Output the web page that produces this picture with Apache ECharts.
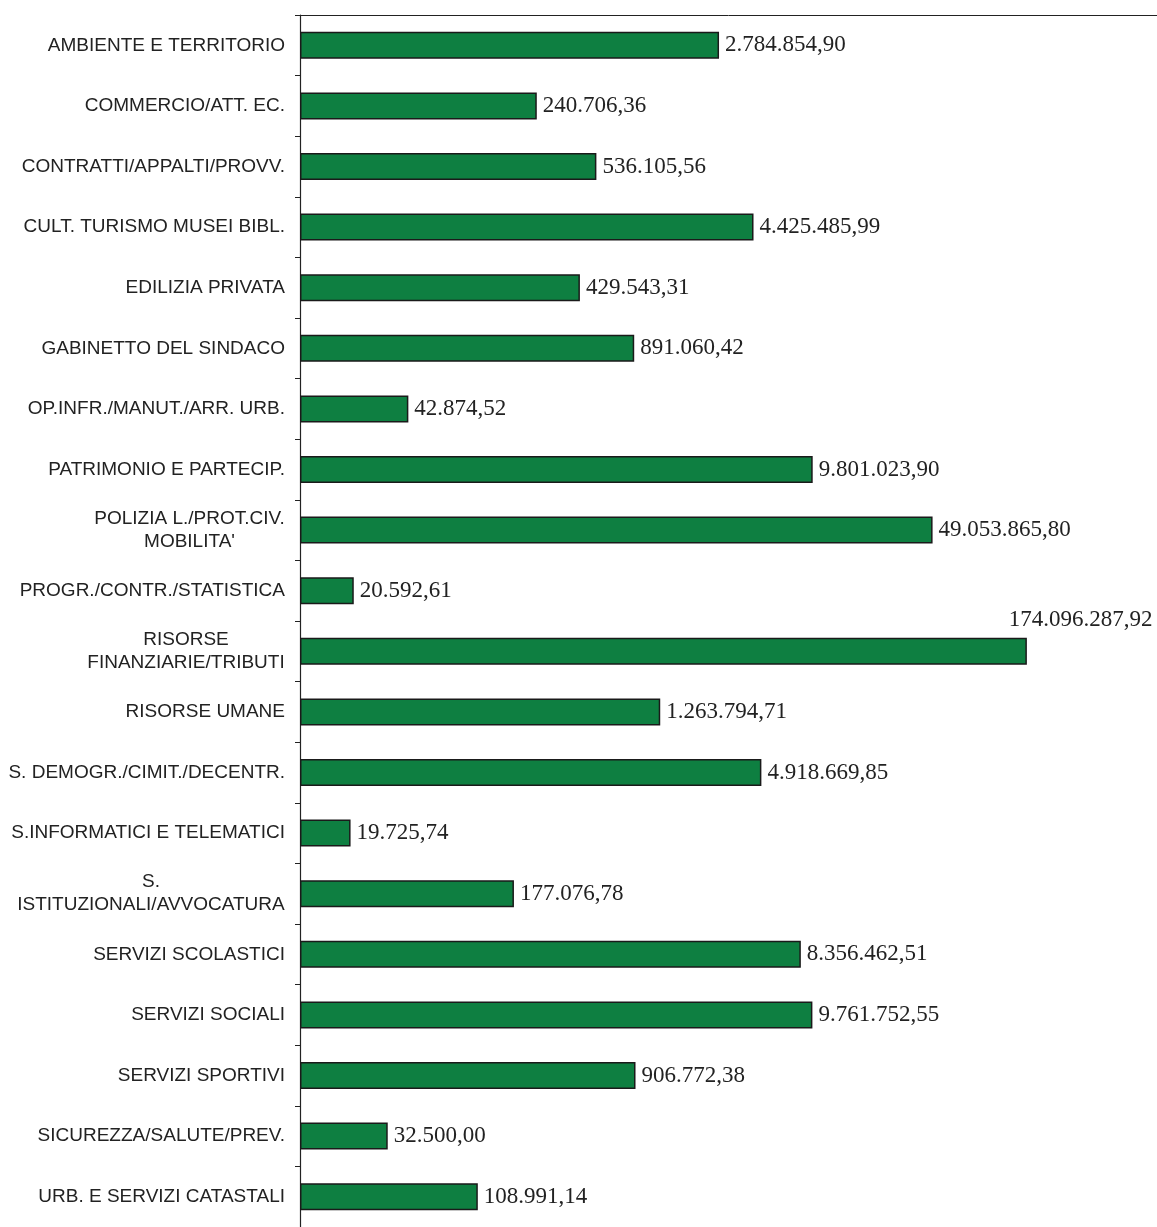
<!DOCTYPE html>
<html lang="it" style="height: 100%">
<head>
  <meta charset="utf-8">
  <title>spese per settore</title>
  <script src="https://cdn.jsdelivr.net/npm/echarts@6/dist/echarts.min.js"></script>
</head>
<body style="height: 100%; margin: 0; background: #fff">
<div id="main" style="width: 1157px; height: 1227px"></div>

<script type="text/javascript">
  var settori = [
    'AMBIENTE E TERRITORIO',
    'COMMERCIO/ATT. EC.',
    'CONTRATTI/APPALTI/PROVV.',
    'CULT. TURISMO MUSEI BIBL.',
    'EDILIZIA PRIVATA',
    'GABINETTO DEL SINDACO',
    'OP.INFR./MANUT./ARR. URB.',
    'PATRIMONIO E PARTECIP.',
    "POLIZIA L./PROT.CIV.\nMOBILITA'",
    'PROGR./CONTR./STATISTICA',
    'RISORSE\nFINANZIARIE/TRIBUTI',
    'RISORSE UMANE',
    'S. DEMOGR./CIMIT./DECENTR.',
    'S.INFORMATICI E TELEMATICI',
    'S.\nISTITUZIONALI/AVVOCATURA',
    'SERVIZI SCOLASTICI',
    'SERVIZI SOCIALI',
    'SERVIZI SPORTIVI',
    'SICUREZZA/SALUTE/PREV.',
    'URB. E SERVIZI CATASTALI'
  ];
  var importi = [
    2784854.90, 240706.36, 536105.56, 4425485.99, 429543.31,
    891060.42, 42874.52, 9801023.90, 49053865.80, 20592.61,
    174096287.92, 1263794.71, 4918669.85, 19725.74, 177076.78,
    8356462.51, 9761752.55, 906772.38, 32500.00, 108991.14
  ];

  // formato italiano 1.234.567,89
  function euro(v) {
    var p = v.toFixed(2).split('.');
    return p[0].replace(/\B(?=(\d{3})+(?!\d))/g, '.') + ',' + p[1];
  }

  // le etichette su due righe sono centrate riga per riga
  var ctx = document.createElement('canvas').getContext('2d');
  ctx.font = '19px "Liberation Sans"';
  var rich = {};
  settori.forEach(function (s, i) {
    if (s.indexOf('\n') >= 0) {
      var w = 0;
      s.split('\n').forEach(function (l) { w = Math.max(w, ctx.measureText(l).width); });
      rich['w' + i] = { width: Math.ceil(w), align: 'center', fontSize: 19, lineHeight: 23,
        fontFamily: 'Liberation Sans', color: '#222' };
    }
  });

  var dati = importi.map(function (v, i) {
    if (i === 10) {
      return { value: v, label: { offset: [-24, -31] } };
    }
    return v;
  });

  var chart = echarts.init(document.getElementById('main'));
  chart.setOption({
    animation: false,
    grid: { left: 300, top: 15, width: 860, height: 1218, containLabel: false },
    xAxis: {
      type: 'log',
      min: 10000,
      max: 1000000000,
      startValue: 10000,
      position: 'top',
      axisLine: { show: true, lineStyle: { color: '#222', width: 1 } },
      axisTick: { show: false },
      axisLabel: { show: false },
      splitLine: { show: false }
    },
    yAxis: {
      type: 'category',
      inverse: true,
      data: settori,
      axisLine: { show: true, lineStyle: { color: '#222', width: 1.2 } },
      axisTick: { show: true, inside: false, length: 5, lineStyle: { color: '#222', width: 1 } },
      axisLabel: {
        margin: 15,
        fontSize: 19,
        lineHeight: 23,
        fontFamily: 'Liberation Sans',
        color: '#222',
        rich: rich,
        formatter: function (v, i) {
          if (v.indexOf('\n') < 0) return v;
          return v.split('\n').map(function (l) { return '{w' + i + '|' + l + '}'; }).join('\n');
        }
      }
    },
    series: [{
      type: 'bar',
      data: dati,
      barWidth: 27,
      clip: true,
      itemStyle: { color: '#0e7f41', borderColor: '#1a1a1a', borderWidth: 1.5 },
      label: {
        show: true,
        position: 'right',
        distance: 6,
        fontFamily: 'Liberation Serif',
        fontSize: 23,
        color: '#222',
        formatter: function (p) { return euro(p.value); }
      }
    }]
  });
</script>
</body>
</html>
